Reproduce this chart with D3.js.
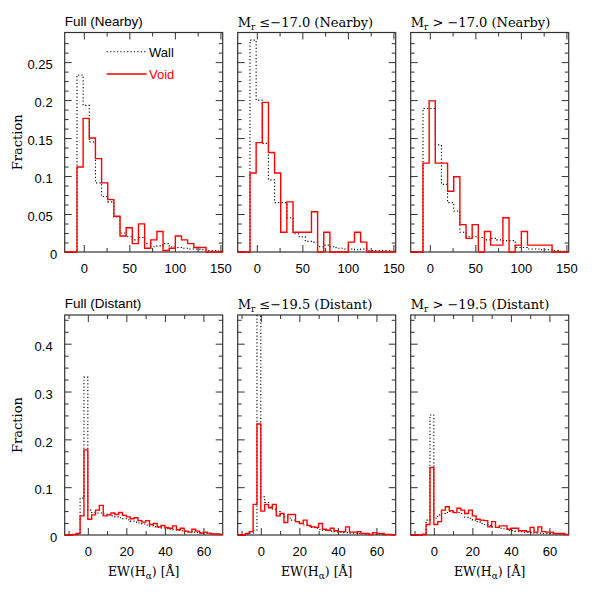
<!DOCTYPE html>
<html><head><meta charset="utf-8">
<script src="https://cdn.jsdelivr.net/npm/d3@7"></script>
<style>body{margin:0;background:#fff}</style>
</head><body>
<svg id="c" width="599" height="599"></svg>
<script>
// ---------------- DATA ----------------
const nearbyBinStart = -7.5, nearbyBinWidth = 6.75;
const distantBinStart = -8, distantBinWidth = 2;
const nearbyXDomain = [-21, 152.5];
const distantXDomain = [-12, 70];
const nearbyYDomain = [0, 0.289];
const distantYDomain = [0, 0.46];

const nearbyXMajor = [0, 50, 100, 150];
const nearbyXMinor = [25, 75, 125];
const distantXMajor = [0, 20, 40, 60];
const distantXMinor = [-10, 10, 30, 50];
const nearbyYMajor = [0, 0.05, 0.1, 0.15, 0.2, 0.25];
const nearbyYMinor = [0.0125, 0.025, 0.0375, 0.0625, 0.075, 0.0875, 0.1125, 0.125, 0.1375,
  0.1625, 0.175, 0.1875, 0.2125, 0.225, 0.2375, 0.2625, 0.275];
const distantYMajor = [0, 0.1, 0.2, 0.3, 0.4];
const distantYMinor = [0.025, 0.05, 0.075, 0.125, 0.15, 0.175, 0.225, 0.25, 0.275,
  0.325, 0.35, 0.375, 0.425, 0.45];

// Nearby (bins of 6.75 starting at -7.5)
const nearFullWall   = [0.233,0.193,0.145,0.091,0.073,0.066,0.046,0.025,0.020,0.016,0.019,0.011,0.007,0.008,0.011,0.007,0.006,0.005,0.004,0.004,0.003,0.002,0.002,0.001];
const nearFullVoid   = [0.112,0.176,0.150,0.123,0.091,0.069,0.047,0.021,0.032,0.011,0.037,0.005,0.016,0.027,0.002,0.005,0.021,0.016,0.011,0.006,0.006,0,0,0];
const nearBrightWall = [0.279,0.200,0.143,0.095,0.065,0.065,0.045,0.024,0.020,0.014,0.013,0.007,0.009,0.007,0.005,0.004,0.004,0.003,0.004,0.002,0.002,0.002,0.002,0.001];
const nearBrightVoid = [0.104,0.144,0.197,0.131,0.104,0.026,0.066,0.026,0.026,0.026,0.053,0,0.026,0,0,0,0.013,0.026,0.013,0,0,0,0,0];
const nearFaintWall  = [0.189,0.189,0.141,0.089,0.065,0.054,0.026,0.020,0.020,0.019,0.016,0.018,0.016,0.015,0.015,0.006,0.006,0.004,0.004,0.003,0.003,0.002,0.001,0];
const nearFaintVoid  = [0.117,0.199,0.117,0.117,0.080,0.099,0.036,0.018,0.036,0,0.027,0.009,0.009,0.045,0,0.009,0.027,0.009,0.009,0.009,0.009,0,0,0];

// Distant (bins of 2 starting at -8)
const distFullWall   = [0.001,0.002,0.077,0.330,0.052,0.047,0.046,0.046,0.044,0.042,0.040,0.038,0.036,0.034,0.032,0.029,0.027,0.025,0.023,0.021,0.019,0.017,0.016,0.015,0.013,0.012,0.011,0.010,0.009,0.008,0.007,0.006,0.005,0.005,0.004,0.003,0.003,0.002,0.002];
const distFullVoid   = [0.001,0.003,0.040,0.178,0.033,0.042,0.052,0.062,0.040,0.042,0.046,0.043,0.047,0.041,0.038,0.034,0.036,0.030,0.027,0.030,0.022,0.024,0.017,0.020,0.016,0.014,0.019,0.011,0.014,0.008,0.006,0.012,0.008,0.004,0.006,0.004,0.002,0.002,0.001];
const distBrightWall = [0.002,0.004,0.010,0.500,0.080,0.068,0.059,0.054,0.049,0.043,0.038,0.035,0.031,0.028,0.024,0.021,0.019,0.016,0.014,0.012,0.010,0.009,0.008,0.007,0.006,0.005,0.005,0.004,0.004,0.003,0.003,0.002,0.002,0.002,0.002,0.001,0.001,0.001,0.001];
const distBrightVoid = [0.003,0.007,0.064,0.232,0.050,0.064,0.057,0.064,0.040,0.045,0.026,0.043,0.043,0.028,0.024,0.031,0.020,0.017,0.016,0.024,0.012,0.010,0.014,0.009,0.007,0.007,0.017,0.006,0.006,0.007,0.003,0.003,0.001,0.005,0.003,0.003,0.001,0.001,0];
const distFaintWall  = [0,0.002,0.031,0.251,0.035,0.042,0.045,0.047,0.049,0.047,0.047,0.045,0.037,0.035,0.031,0.028,0.024,0.022,0.020,0.017,0.016,0.014,0.013,0.010,0.009,0.008,0.007,0.006,0.006,0.005,0.004,0.004,0.003,0.003,0.003,0.002,0.002,0.002,0.001];
const distFaintVoid  = [0,0.001,0.022,0.141,0.022,0.028,0.052,0.059,0.051,0.047,0.056,0.052,0.045,0.052,0.040,0.033,0.031,0.030,0.017,0.028,0.016,0.019,0.019,0.012,0.014,0.014,0.009,0.009,0.007,0.016,0.006,0.017,0.007,0.006,0.006,0.003,0.003,0.003,0.001];

const legendLabels = ["Wall", "Void"];

// ---------------- LAYOUT ----------------
const panelLefts = [64.7, 237.7, 410.7];
const panelW = 158;
const rowsGeom = [{top: 32.5, bottom: 252}, {top: 315, bottom: 535}];

const rowDefs = [
  {xDomain: nearbyXDomain, yDomain: nearbyYDomain, xMajor: nearbyXMajor, xMinor: nearbyXMinor,
   yMajor: nearbyYMajor, yMinor: nearbyYMinor, binStart: nearbyBinStart, binWidth: nearbyBinWidth, xLabel: false},
  {xDomain: distantXDomain, yDomain: distantYDomain, xMajor: distantXMajor, xMinor: distantXMinor,
   yMajor: distantYMajor, yMinor: distantYMinor, binStart: distantBinStart, binWidth: distantBinWidth, xLabel: true}
];

const panels = [
  {row: 0, col: 0, title: {type: "full", text: "Full (Nearby)"}, wall: nearFullWall, void: nearFullVoid},
  {row: 0, col: 1, title: {type: "mag", op: "≤", val: "−17.0", tag: "(Nearby)"}, wall: nearBrightWall, void: nearBrightVoid},
  {row: 0, col: 2, title: {type: "mag", op: ">", val: " −17.0", tag: "(Nearby)"}, wall: nearFaintWall, void: nearFaintVoid},
  {row: 1, col: 0, title: {type: "full", text: "Full (Distant)"}, wall: distFullWall, void: distFullVoid},
  {row: 1, col: 1, title: {type: "mag", op: "≤", val: "−19.5", tag: "(Distant)"}, wall: distBrightWall, void: distBrightVoid},
  {row: 1, col: 2, title: {type: "mag", op: ">", val: " −19.5", tag: "(Distant)"}, wall: distFaintWall, void: distFaintVoid}
];

const SANS = "'Liberation Sans', Arial, Helvetica, sans-serif";
const SERIF = "'DejaVu Serif', serif";
const FRAME = "#333";

const svg = d3.select("#c");

function stepPoints(vals, start, width, domain) {
  const pts = [[domain[0], 0]];
  vals.forEach((v, i) => pts.push([start + i * width, v]));
  pts.push([start + vals.length * width, 0]);
  pts.push([domain[1], 0]);
  return pts;
}

panels.forEach((p, idx) => {
  const rd = rowDefs[p.row];
  const rg = rowsGeom[p.row];
  const left = panelLefts[p.col];
  const x = d3.scaleLinear().domain(rd.xDomain).range([left, left + panelW]);
  const y = d3.scaleLinear().domain(rd.yDomain).range([rg.bottom, rg.top]);
  const g = svg.append("g");

  const clipId = "clip" + idx;
  svg.append("clipPath").attr("id", clipId).append("rect")
    .attr("x", left).attr("y", rg.top).attr("width", panelW).attr("height", rg.bottom - rg.top + 1.5);

  // frame
  g.append("rect").attr("x", left).attr("y", rg.top).attr("width", panelW).attr("height", rg.bottom - rg.top)
    .attr("fill", "none").attr("stroke", FRAME).attr("stroke-width", 1.2);

  // ticks
  const inRange = (vals, dom) => vals.filter(v => v > dom[0] && v < dom[1]);
  const axisStyle = sel => {
    sel.select(".domain").remove();
    sel.selectAll(".tick line").attr("stroke", FRAME).attr("stroke-width", 1);
    sel.selectAll("text").attr("font-family", SANS).attr("font-size", 13).attr("fill", "#000");
  };
  const xMaj = inRange(rd.xMajor, rd.xDomain), xMin = inRange(rd.xMinor, rd.xDomain);
  const yMaj = rd.yMajor.filter(v => v >= rd.yDomain[0] && v < rd.yDomain[1]);
  const yMin = inRange(rd.yMinor, rd.yDomain);

  g.append("g").attr("transform", `translate(0,${rg.bottom})`)
    .call(d3.axisBottom(x).tickValues(xMaj).tickSize(-7).tickPadding(12).tickFormat(d => String(d))).call(axisStyle);
  g.append("g").attr("transform", `translate(0,${rg.bottom})`)
    .call(d3.axisBottom(x).tickValues(xMin).tickSize(-4).tickFormat("")).call(axisStyle);
  g.append("g").attr("transform", `translate(0,${rg.top})`)
    .call(d3.axisTop(x).tickValues(xMaj).tickSize(-7).tickFormat("")).call(axisStyle);
  g.append("g").attr("transform", `translate(0,${rg.top})`)
    .call(d3.axisTop(x).tickValues(xMin).tickSize(-4).tickFormat("")).call(axisStyle);

  const yl = g.append("g").attr("transform", `translate(${left},0)`)
    .call(d3.axisLeft(y).tickValues(yMaj).tickSize(-7).tickPadding(12)
      .tickFormat(p.col === 0 ? (d => String(d)) : "")).call(axisStyle);
  yl.selectAll("text").attr("y", 2.5).filter(d => d === 0).attr("x", -7.5);
  g.append("g").attr("transform", `translate(${left},0)`)
    .call(d3.axisLeft(y).tickValues(yMin).tickSize(-4).tickFormat("")).call(axisStyle);
  g.append("g").attr("transform", `translate(${left + panelW},0)`)
    .call(d3.axisRight(y).tickValues(yMaj.filter(v => v > 0)).tickSize(-7).tickFormat("")).call(axisStyle);
  g.append("g").attr("transform", `translate(${left + panelW},0)`)
    .call(d3.axisRight(y).tickValues(yMin).tickSize(-4).tickFormat("")).call(axisStyle);

  // histograms
  const line = d3.line().x(d => x(d[0])).y(d => y(d[1])).curve(d3.curveStepAfter);
  const hg = g.append("g").attr("clip-path", `url(#${clipId})`);
  hg.append("path").attr("d", line(stepPoints(p.wall, rd.binStart, rd.binWidth, rd.xDomain)))
    .attr("fill", "none").attr("stroke", "#000").attr("stroke-width", 1.1).attr("stroke-dasharray", "1.2,2.2");
  hg.append("path").attr("d", line(stepPoints(p.void, rd.binStart, rd.binWidth, rd.xDomain)))
    .attr("fill", "none").attr("stroke", "#ff0000").attr("stroke-width", 1.4);

  // title
  const ty = p.row === 0 ? 26 : 307.5;
  if (p.title.type === "full") {
    g.append("text").attr("x", left).attr("y", ty).attr("font-family", SANS).attr("font-size", 13.5)
      .text(p.title.text);
  } else {
    const t = g.append("text").attr("x", left).attr("y", ty + 1).attr("font-family", SERIF).attr("font-size", 13);
    t.append("tspan").text("M");
    t.append("tspan").attr("font-size", 9).attr("dy", 3).text("r");
    t.append("tspan").attr("dy", -3).text(" " + p.title.op + p.title.val + " " + p.title.tag);
  }

  // x label
  if (rd.xLabel) {
    const t = g.append("text").attr("x", left + panelW / 2).attr("y", 576).attr("text-anchor", "middle")
      .attr("font-family", SERIF).attr("font-size", 12.5);
    t.append("tspan").text("EW(H");
    t.append("tspan").attr("font-size", 9).attr("dy", 3).text("α");
    t.append("tspan").attr("dy", -3).text(") [Å]");
  }
  // y label
  if (p.col === 0) {
    g.append("text").attr("transform", `translate(22,${(rg.top + rg.bottom) / 2}) rotate(-90)`)
      .attr("text-anchor", "middle").attr("font-family", SERIF).attr("font-size", 13).text("Fraction");
  }

  // legend
  if (idx === 0) {
    const lg = g.append("g");
    lg.append("line").attr("x1", 106.7).attr("x2", 146.7).attr("y1", 51.7).attr("y2", 51.7)
      .attr("stroke", "#000").attr("stroke-width", 1.1).attr("stroke-dasharray", "1.2,2.2");
    lg.append("text").attr("x", 149).attr("y", 56.5).attr("font-family", SANS).attr("font-size", 13).text(legendLabels[0]);
    lg.append("line").attr("x1", 106.7).attr("x2", 146.7).attr("y1", 74).attr("y2", 74)
      .attr("stroke", "#ff0000").attr("stroke-width", 1.4);
    lg.append("text").attr("x", 149).attr("y", 78.5).attr("font-family", SANS).attr("font-size", 13)
      .attr("fill", "#ff0000").text(legendLabels[1]);
  }
});
</script>
</body></html>
